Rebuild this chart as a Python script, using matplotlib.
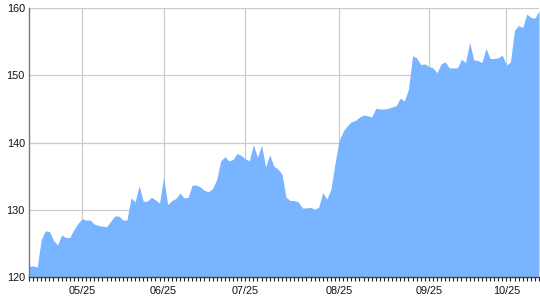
import matplotlib
matplotlib.use("Agg")
import matplotlib.pyplot as plt
import numpy as np

values = [
    121.6, 121.7, 121.5, 125.6, 126.9, 126.8, 125.5, 124.8, 126.3, 125.9,
    125.9, 127.1, 128.0, 128.7, 128.5, 128.5, 127.9, 127.7, 127.6, 127.5,
    128.3, 129.1, 129.1, 128.5, 128.5, 131.8, 131.2, 133.6, 131.3, 131.3,
    131.9, 131.5, 131.0, 134.9, 130.8, 131.4, 131.7, 132.5, 131.8, 131.9,
    133.7, 133.7, 133.4, 132.9, 132.7, 133.2, 134.5, 137.3, 137.9, 137.3,
    137.5, 138.4, 138.1, 137.6, 137.3, 139.7, 137.8, 139.6, 136.4, 138.2,
    136.5, 136.1, 135.3, 131.9, 131.4, 131.4, 131.2, 130.3, 130.3, 130.4,
    130.1, 130.4, 132.6, 131.6, 133.1, 136.9, 140.3, 141.7, 142.5, 143.1,
    143.3, 143.8, 144.1, 144.0, 143.8, 145.1, 145.0, 145.0, 145.1, 145.3,
    145.5, 146.6, 146.2, 147.9, 152.9, 152.6, 151.6, 151.7, 151.3, 151.1,
    150.4, 151.7, 152.0, 151.1, 151.1, 151.1, 152.4, 151.9, 154.9, 152.3,
    152.2, 151.9, 154.0, 152.5, 152.5, 152.6, 153.0, 151.5, 152.0, 156.7,
    157.4, 157.1, 159.1, 158.6, 158.5, 159.6,
]
tick_index = [13, 33, 53, 76, 98, 117]
tick_labels = ["05/25", "06/25", "07/25", "08/25", "09/25", "10/25"]
y_ticks = [120, 130, 140, 150, 160]

plt.rcParams['font.family'] = ['Liberation Sans', 'DejaVu Sans']

x = np.arange(len(values))

fig = plt.figure(figsize=(5.4, 3.0), dpi=100)
ax = fig.add_axes([29 / 540, 1 - 277.3 / 300, 510 / 540, (277.3 - 8) / 300])

ax.fill_between(x, values, 120, color="#78b4ff", linewidth=0, zorder=2)

ax.set_xlim(0, len(values) - 1)
ax.set_ylim(120, 160)

ax.set_yticks(y_ticks)
ax.set_yticklabels([str(v) for v in y_ticks], fontsize=7.8, color="#111111")
ax.set_xticks(tick_index)
ax.set_xticklabels(tick_labels, fontsize=7.8, color="#111111")
ax.set_xticks(x, minor=True)

ax.grid(True, which="major", color="#cccccc", linewidth=0.9, zorder=0)
ax.set_axisbelow(True)

ax.tick_params(axis="y", length=0, pad=3)
ax.tick_params(axis="x", which="major", length=3, width=0.8, color="#222222", pad=3)
ax.tick_params(axis="x", which="minor", length=3, width=0.8, color="#222222")

for side in ["top", "right"]:
    ax.spines[side].set_visible(False)
ax.spines["left"].set_color("#777777")
ax.spines["left"].set_linewidth(1.0)
ax.spines["bottom"].set_color("#444444")
ax.spines["bottom"].set_linewidth(1.0)

fig.savefig("out.png", dpi=100)
